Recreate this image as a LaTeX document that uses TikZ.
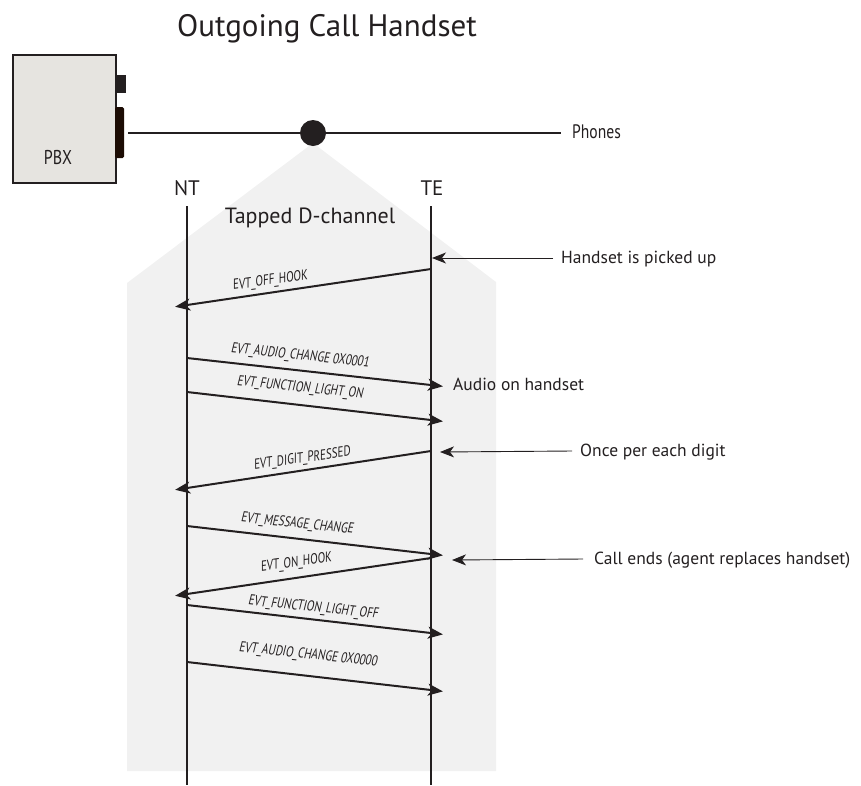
\documentclass[tikz,border=0pt]{standalone}
\usepackage{fontspec}
\setmainfont{PT Sans}
\newfontfamily\condfont[FakeStretch=0.8]{PT Sans}
\newfontfamily\lblfont[FakeStretch=0.76,FakeSlant=0.14]{PT Sans}
\usetikzlibrary{arrows.meta}
\definecolor{ink}{HTML}{231F20}
\definecolor{tapgray}{HTML}{F1F1F1}
\definecolor{pbxfill}{HTML}{E6E4E0}
\definecolor{jack}{HTML}{1C0C04}
\tikzset{
  msg/.style={line width=2pt, draw=ink, -{Stealth[length=15pt,width=12pt,inset=4pt]}, shorten >=-12pt},
  lifeline/.style={line width=1.8pt, draw=ink},
  note/.style={line width=0.9pt, draw=ink, -{Stealth[length=14pt,width=11pt,inset=4pt]}},
  lbl/.style={font=\lblfont\fontsize{14.5}{14.5}\selectfont, text=ink, inner sep=0pt},
  anno/.style={font=\fontsize{17.5}{17.5}\selectfont, text=ink, anchor=west, inner sep=0pt},
}
\begin{document}
\begin{tikzpicture}[x=1pt,y=-1pt]
\useasboundingbox (0,0) rectangle (861,785);
% tapped region
\fill[tapgray] (313,143) -- (496,282) -- (496,771) -- (127,771) -- (127,283) -- cycle;
% title
\node[font=\fontsize{31}{31}\selectfont, text=ink] (title) at (327,29) {Outgoing Call Handset};
% PBX
\node[draw=ink, line width=1.5pt, fill=pbxfill, minimum width=103pt, minimum height=128pt, anchor=north west, inner sep=0pt] (pbx) at (12,54) {};
\node[font=\condfont\fontsize{20}{20}\selectfont, text=ink] (pbxlbl) at (58,157) {PBX};
\fill[ink] (115,75) rectangle (126,93);
\fill[jack, rounded corners=1.5pt] (115,107) rectangle (124,158);
% bus line
\coordinate (busL) at (128,133);
\coordinate (busR) at (561,133);
\draw[line width=1.2pt, ink] (busL) -- (busR);
\node[circle, fill=ink, minimum size=26pt, inner sep=0pt] (tap) at (313,133) {};
\node[font=\condfont\fontsize{19.5}{19.5}\selectfont, text=ink, anchor=west, inner sep=0pt] (phones) at (572,132) {Phones};
% lifelines
\node[font=\fontsize{21}{21}\selectfont, text=ink] (nt) at (187,188) {NT};
\node[font=\fontsize{21}{21}\selectfont, text=ink] (te) at (432,188) {TE};
\coordinate (ntTop) at (187,206);
\coordinate (ntBot) at (187,785);
\coordinate (teTop) at (431,206);
\coordinate (teBot) at (431,785);
\draw[lifeline] (ntTop) -- (ntBot);
\draw[lifeline] (teTop) -- (teBot);
\node[font=\fontsize{22}{22}\selectfont, text=ink] (tapped) at (310,218) {Tapped D-channel};
% message endpoints
\coordinate (m1a) at (431,269); \coordinate (m1b) at (187,305);
\coordinate (m2a) at (187,358); \coordinate (m2b) at (431,385);
\coordinate (m3a) at (187,392); \coordinate (m3b) at (431,420);
\coordinate (m4a) at (431,451); \coordinate (m4b) at (187,488);
\coordinate (m5a) at (187,526); \coordinate (m5b) at (431,554);
\coordinate (m6a) at (431,558); \coordinate (m6b) at (187,594);
\coordinate (m7a) at (187,605); \coordinate (m7b) at (431,633);
\coordinate (m8a) at (187,662); \coordinate (m8b) at (431,690);
\draw[msg] (m1a) -- (m1b);
\draw[msg] (m2a) -- (m2b);
\draw[msg] (m3a) -- (m3b);
\draw[msg] (m4a) -- (m4b);
\draw[msg] (m5a) -- (m5b);
\draw[msg] (m6a) -- (m6b);
\draw[msg] (m7a) -- (m7b);
\draw[msg] (m8a) -- (m8b);
% message labels
\node[lbl, rotate=8] (l1) at (270,281) {EVT\_OFF\_HOOK};
\node[lbl, rotate=-6] (l2) at (300,356) {EVT\_AUDIO\_CHANGE 0X0001};
\node[lbl, rotate=-6] (l3) at (300,388) {EVT\_FUNCTION\_LIGHT\_ON};
\node[lbl, rotate=8] (l4) at (302,459) {EVT\_DIGIT\_PRESSED};
\node[lbl, rotate=-6] (l5) at (297,524) {EVT\_MESSAGE\_CHANGE};
\node[lbl, rotate=8] (l6) at (296,563) {EVT\_ON\_HOOK};
\node[lbl, rotate=-6] (l7) at (313,608) {EVT\_FUNCTION\_LIGHT\_OFF};
\node[lbl, rotate=-6] (l8) at (308,655) {EVT\_AUDIO\_CHANGE 0X0000};
% annotations
\node[anno] (a1) at (561,259) {Handset is picked up};
\node[anno] (a2) at (453,384) {Audio on handset};
\node[anno] (a3) at (580,452) {Once per each digit};
\node[anno] (a4) at (594,560) {Call ends (agent replaces handset)};
\coordinate (a1tip) at (432,258);
\coordinate (a3tip) at (440,452);
\coordinate (a4tip) at (452,560);
\draw[note] (a1.west) ++(-8,-1) -- (a1tip);
\draw[note] (a3.west) ++(-8,-1) -- (a3tip);
\draw[note] (a4.west) ++(-11,-1) -- (a4tip);
\end{tikzpicture}
\end{document}
